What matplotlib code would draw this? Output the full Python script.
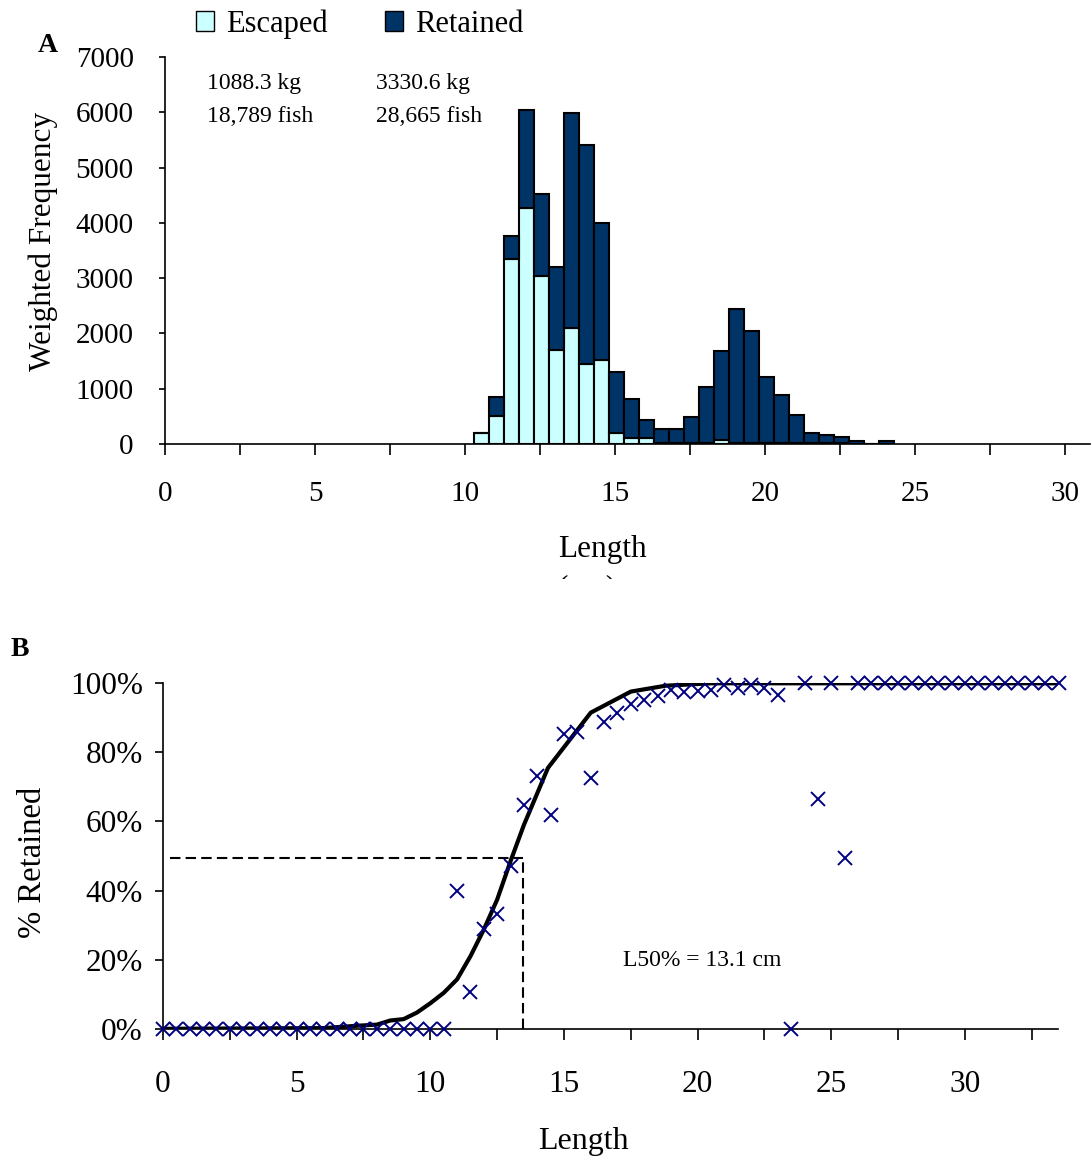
import matplotlib
matplotlib.use("Agg")
import matplotlib.pyplot as plt
import numpy as np
from matplotlib.patches import Patch
from matplotlib.transforms import Bbox, TransformedBbox
from matplotlib.ticker import FixedLocator, FuncFormatter

plt.rcParams['font.family'] = ['Liberation Serif', 'DejaVu Serif']

# ---------------- Panel A data ----------------
lengths = [10.5, 11.0, 11.5, 12.0, 12.5, 13.0, 13.5, 14.0, 14.5, 15.0, 15.5, 16.0,
           16.5, 17.0, 17.5, 18.0, 18.5, 19.0, 19.5, 20.0, 20.5, 21.0, 21.5, 22.0,
           22.5, 23.0, 23.5, 24.0]
escaped = [200, 500, 3350, 4270, 3040, 1700, 2100, 1450, 1520, 190, 100, 100,
           20, 20, 20, 20, 70, 20, 20, 20, 20, 20, 20, 20,
           20, 0, 0, 0]
retained = [0, 350, 420, 1780, 1490, 1495, 3880, 3960, 2480, 1118, 708, 340,
            245, 251, 474, 1005, 1612, 2416, 2024, 1198, 866, 504, 185, 143,
            112, 60, 0, 60]
legend_labels = ['Escaped', 'Retained']
summary_escaped = ['1088.3 kg', '18,789 fish']
summary_retained = ['3330.6 kg', '28,665 fish']

# ---------------- Panel B data ----------------
sel_length = [0.0, 0.5, 1.0, 1.5, 2.0, 2.5, 3.0, 3.5, 4.0, 4.5, 5.0, 5.5, 6.0, 6.5,
              7.0, 7.5, 8.0, 8.5, 9.0, 9.5, 10.0, 10.5, 11.0, 11.5, 12.0, 12.5,
              13.0, 13.5, 14.0, 14.5, 15.0, 15.5, 16.0, 16.5, 17.0, 17.5, 18.0,
              18.5, 19.0, 19.5, 20.0, 20.5, 21.0, 21.5, 22.0, 22.5, 23.0, 23.5,
              24.0, 24.5, 25.0, 25.5, 26.0, 26.5, 27.0, 27.5, 28.0, 28.5, 29.0,
              29.5, 30.0, 30.5, 31.0, 31.5, 32.0, 32.5, 33.0, 33.5]
pct_retained = [0, 0, 0, 0, 0, 0, 0, 0, 0, 0, 0, 0, 0, 0,
                0, 0, 0, 0, 0, 0, 0, 0, 40.0, 10.6, 28.9, 33.2,
                47.0, 64.9, 73.2, 62.0, 85.4, 85.9, 72.7, 88.9, 91.5, 94.0, 95.2,
                96.4, 98.1, 97.4, 97.9, 98.1, 99.6, 98.6, 99.6, 98.6, 96.7, 0.0,
                100, 66.5, 100, 49.4, 100, 100, 100, 100, 100, 100, 100,
                100, 100, 100, 100, 100, 100, 100, 100, 100]
curve_length = [0.0, 6.0, 7.3, 8.0, 8.5, 9.0, 9.5, 10.0, 10.5, 11.0, 11.5, 12.0,
                12.5, 13.0, 13.5, 14.4, 16.0, 17.5, 18.8, 20.5, 33.5]
curve_pct = [0.0, 0.2, 0.9, 1.2, 2.4, 2.8, 4.7, 7.4, 10.4, 14.3, 21.0, 28.7,
             37.4, 48.5, 59.0, 75.5, 91.5, 97.6, 99.3, 100.0, 100.0]
l50_length = 13.45
l50_pct = 49.5
l50_label = 'L50% = 13.1 cm'

W, H = 1091, 1164
fig = plt.figure(figsize=(W / 100, H / 100), dpi=100)


def fx(px):
    return px / W


def fy(py):
    return 1 - py / H


C_ESC = '#CCFFFF'
C_RET = '#003366'

# ---------------- Panel A ----------------
axA = fig.add_axes([fx(165), fy(444), fx(1090) - fx(165), fy(57) - fy(444)])
xpos = np.array(lengths) + 0.05
axA.bar(xpos, escaped, width=0.5, color=C_ESC, edgecolor='black', linewidth=1.5, zorder=2)
axA.bar(xpos, retained, bottom=escaped, width=0.5, color=C_RET, edgecolor='black',
        linewidth=1.5, zorder=2)
axA.set_xlim(0, 30.83)
axA.set_ylim(0, 7000)
for s in ['top', 'right']:
    axA.spines[s].set_visible(False)
for s in ['left', 'bottom']:
    axA.spines[s].set_linewidth(1.2)
axA.xaxis.set_major_locator(FixedLocator([0, 5, 10, 15, 20, 25, 30]))
axA.xaxis.set_minor_locator(FixedLocator([2.5, 7.5, 12.5, 17.5, 22.5, 27.5]))
axA.yaxis.set_major_locator(FixedLocator(list(range(0, 7001, 1000))))
axA.tick_params(axis='x', which='both', direction='out', length=7.7, width=1.2,
                pad=19, labelsize=21)
axA.tick_params(axis='y', which='both', direction='out', length=4.5, width=1.2,
                pad=18, labelsize=21)

fig.text(fx(43), fy(241), 'Weighted Frequency', rotation=90, ha='center', va='center',
         fontsize=22.5)
fig.text(fx(602), fy(550), 'Length', ha='center', va='center', fontsize=22.5)
cm = fig.text(fx(587), fy(574), '(cm)', ha='center', va='top', fontsize=22.5)
cm.set_clip_box(TransformedBbox(Bbox([[0, fy(579)], [1, 1]]), fig.transFigure))
cm.set_clip_on(True)
fig.text(fx(48), fy(45), 'A', ha='center', va='center', fontsize=20, fontweight='bold')

fig.text(fx(207), fy(84), summary_escaped[0], ha='left', va='center', fontsize=17)
fig.text(fx(207), fy(116), summary_escaped[1], ha='left', va='center', fontsize=17)
fig.text(fx(376), fy(84), summary_retained[0], ha='left', va='center', fontsize=17)
fig.text(fx(376), fy(116), summary_retained[1], ha='left', va='center', fontsize=17)

handles = [Patch(facecolor=C_ESC, edgecolor='black', linewidth=1.0),
           Patch(facecolor=C_RET, edgecolor='black', linewidth=1.0)]
fig.legend(handles, legend_labels, ncol=2, loc='center left',
           bbox_to_anchor=(fx(196), fy(24)), frameon=False, fontsize=22,
           handlelength=0.6, handleheight=0.62, handletextpad=0.4,
           columnspacing=1.85, borderpad=0, borderaxespad=0)

# ---------------- Panel B ----------------
axB = fig.add_axes([fx(163), fy(1028.8), fx(1058) - fx(163), fy(683.3) - fy(1028.8)])
axB.plot(curve_length, curve_pct, color='black', linewidth=3.0, zorder=2,
         solid_joinstyle='round')
axB.plot(sel_length, pct_retained, linestyle='none', marker='x', color='#000080',
         markersize=10, markeredgewidth=1.4, clip_on=False, zorder=3)
axB.plot([0.25, l50_length], [l50_pct, l50_pct], color='black', linestyle=(0, (5, 2.5)),
         linewidth=1.5, zorder=1)
axB.plot([l50_length, l50_length], [0, l50_pct], color='black', linestyle=(0, (5, 2.5)),
         linewidth=1.5, zorder=1)
axB.text(17.2, 19.9, l50_label, ha='left', va='center', fontsize=17)
axB.set_xlim(0, 33.48)
axB.set_ylim(0, 100)
for s in ['top', 'right']:
    axB.spines[s].set_visible(False)
for s in ['left', 'bottom']:
    axB.spines[s].set_linewidth(1.2)
axB.xaxis.set_major_locator(FixedLocator([0, 5, 10, 15, 20, 25, 30]))
axB.xaxis.set_minor_locator(FixedLocator([2.5, 7.5, 12.5, 17.5, 22.5, 27.5, 32.5]))
axB.yaxis.set_major_locator(FixedLocator([0, 20, 40, 60, 80, 100]))
axB.yaxis.set_major_formatter(FuncFormatter(lambda v, p: f"{v:.0f}%"))
axB.tick_params(axis='x', which='both', direction='out', length=7.8, width=1.2,
                pad=22, labelsize=22.5)
axB.tick_params(axis='y', which='both', direction='out', length=5.5, width=1.2,
                pad=9, labelsize=22.5)

fig.text(fx(33), fy(862), '% Retained', rotation=90, ha='center', va='center',
         fontsize=23.5)
fig.text(fx(583), fy(1141), 'Length', ha='center', va='center', fontsize=23)
fig.text(fx(20), fy(650), 'B', ha='center', va='center', fontsize=20, fontweight='bold')

fig.savefig('out.png', dpi=100)
